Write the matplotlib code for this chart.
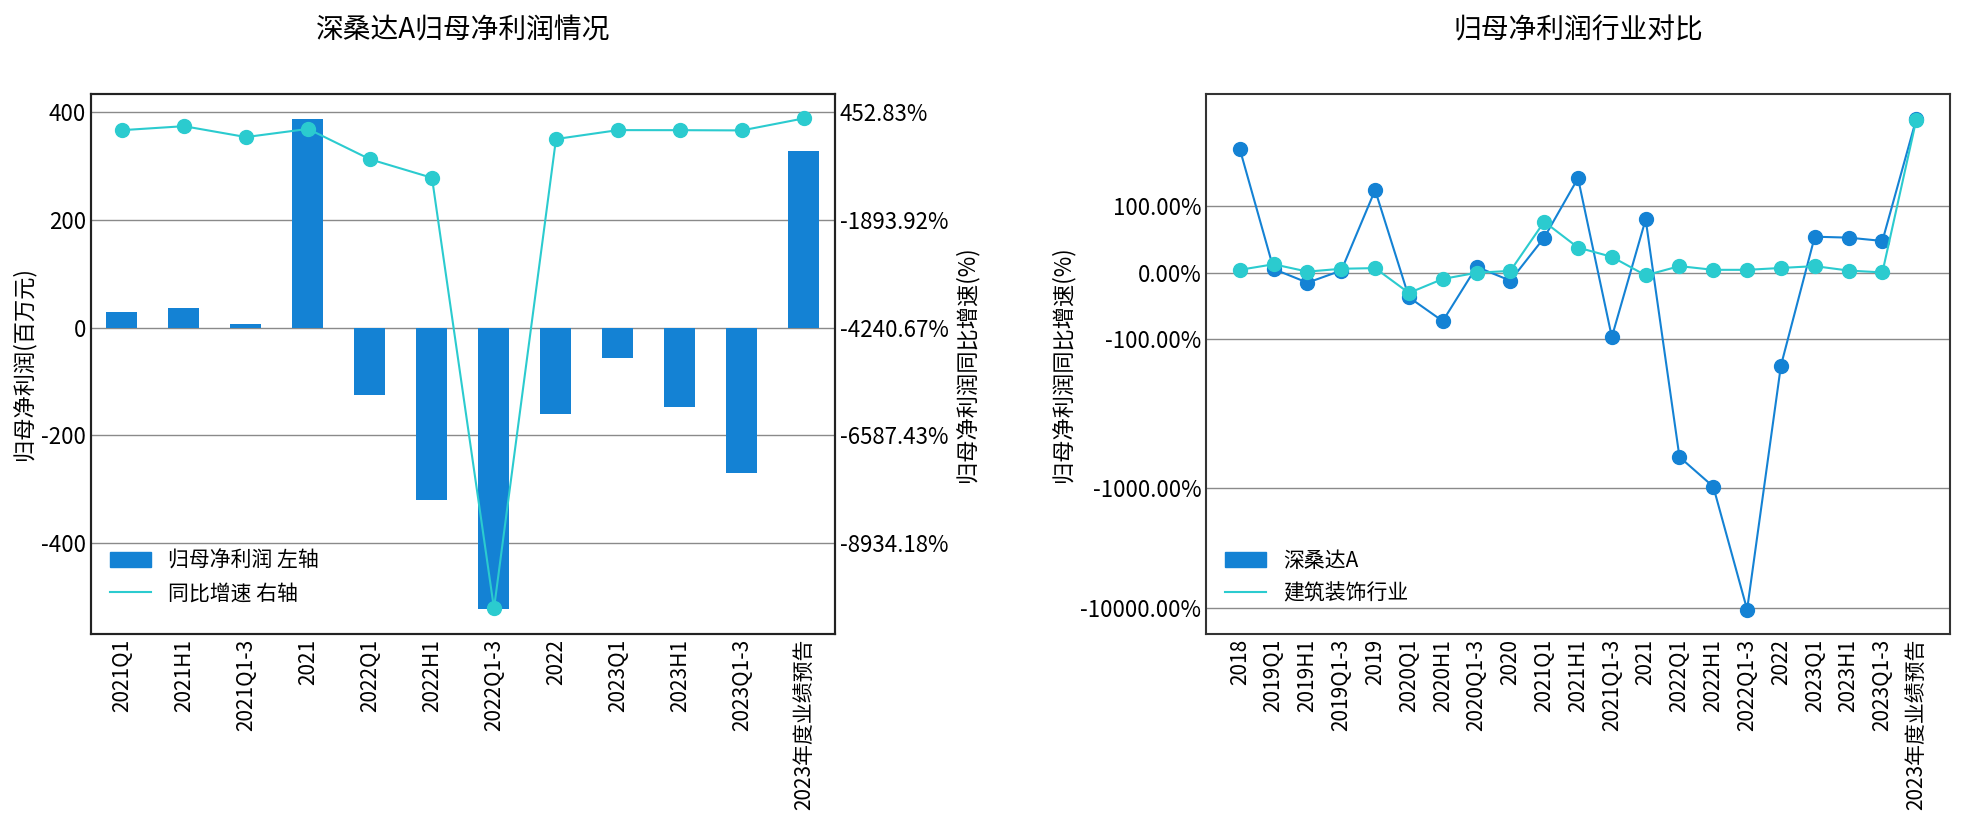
import numpy as np
import matplotlib
matplotlib.use("Agg")
import matplotlib.pyplot as plt
from matplotlib.patches import Patch
from matplotlib.lines import Line2D
from matplotlib.ticker import FuncFormatter, NullLocator

plt.rcParams["font.family"] = ["Noto Sans CJK SC", "DejaVu Sans"]
plt.rcParams["axes.unicode_minus"] = False

# 左图：深桑达A归母净利润
periods = ["2021Q1", "2021H1", "2021Q1-3", "2021", "2022Q1", "2022H1",
           "2022Q1-3", "2022", "2023Q1", "2023H1", "2023Q1-3", "2023年度业绩预告"]
profit = [28, 37, 6, 387, -125, -320, -521, -160, -56, -148, -269, 327]
growth = [53, 140, -97, 80.5, -580, -983, -10350, -140, 54.4, 53, 48, 310]
left_ticks = [-400, -200, 0, 200, 400]
twin_ticks = [-8934.18, -6587.43, -4240.67, -1893.92, 452.83]

# 右图：行业对比
periods_all = ["2018", "2019Q1", "2019H1", "2019Q1-3", "2019", "2020Q1", "2020H1",
               "2020Q1-3", "2020", "2021Q1", "2021H1", "2021Q1-3", "2021", "2022Q1",
               "2022H1", "2022Q1-3", "2022", "2023Q1", "2023H1", "2023Q1-3",
               "2023年度业绩预告"]
company_growth = [243, 5.6, -15, 3.3, 129, -37, -73, 9, -12, 53, 155, -97, 80.5,
                  -621, -983, -10350, -151, 54.4, 53, 48, 386]
industry_growth = [4.4, 12.8, 1.7, 6, 7, -30.5, -9.4, 0, 2.8, 77, 38, 24, -3.9,
                   10, 4.4, 4.4, 7.2, 10, 3.3, 0.5, 380]
right_ticks = [100, 0, -100, -1000, -10000]

BLUE = "#1482D4"
CYAN = "#2BCBCF"
GRID = "#8a8a8a"
FS = 15
TFS = 16

# 分段对数刻度：±100 内线性，之外按对数
KNOT_LOG = [2, 3, 4, 6]
KNOT_POS = [53, 172, 268, 460]


def fwd(x):
    x = np.asarray(x, dtype=float)
    a = np.abs(x)
    lin = a * 0.53
    lg = np.interp(np.log10(np.maximum(a, 100)), KNOT_LOG, KNOT_POS)
    return np.sign(x) * np.where(a <= 100, lin, lg)


def inv(y):
    y = np.asarray(y, dtype=float)
    a = np.abs(y)
    lin = a / 0.53
    lg = 10 ** np.interp(np.maximum(a, 53), KNOT_POS, KNOT_LOG)
    return np.sign(y) * np.where(a <= 53, lin, lg)


def pct(v, p):
    return f"{v:.2f}%"


fig = plt.figure(figsize=(19.61, 8.34), dpi=100)

# ---- 左图 ----
ax1 = fig.add_axes([0.0464, 0.2398, 0.3794, 0.6475])
x1 = np.arange(len(periods))
ax1.bar(x1, profit, width=0.5, color=BLUE, zorder=2)
ax1.set_xlim(-0.5, len(periods) - 0.5)
ylo, yhi = -568, 433
ax1.set_ylim(ylo, yhi)
ax1.set_yticks(left_ticks)
ax1.grid(axis="y", color=GRID, lw=1, zorder=0)
ax1.set_xticks(x1)
ax1.set_xticklabels(periods, rotation=90, fontsize=FS)
ax1.tick_params(axis="y", length=0, labelsize=TFS)
ax1.tick_params(axis="x", length=0, labelsize=FS)
ax1.set_ylabel("归母净利润(百万元)", fontsize=16)
for s in ax1.spines.values():
    s.set_linewidth(1.5)
    s.set_color("#222222")
ax1.set_title("深桑达A归母净利润情况", fontsize=20, pad=40)

# 右轴与左轴网格对齐
k = (twin_ticks[-1] - twin_ticks[-2]) / (left_ticks[-1] - left_ticks[-2])
b = twin_ticks[-1] - left_ticks[-1] * k
ax1b = ax1.twinx()
ax1b.plot(x1, growth, color=CYAN, lw=1.5, marker="o", ms=10, zorder=3)
ax1b.set_ylim(ylo * k + b, yhi * k + b)
ax1b.set_yticks(twin_ticks)
ax1b.set_yticklabels([f"{t:.2f}%" for t in twin_ticks])
ax1b.tick_params(length=0, labelsize=TFS)
ax1b.set_ylabel("归母净利润同比增速(%)", fontsize=16)
for s in ax1b.spines.values():
    s.set_linewidth(1.5)
    s.set_color("#222222")

ax1.legend([Patch(color=BLUE), Line2D([], [], color=CYAN, lw=1.5)],
           ["归母净利润 左轴", "同比增速 右轴"], loc="lower left",
           frameon=False, fontsize=FS, bbox_to_anchor=(0.0, 0.02))

# ---- 右图 ----
ax2 = fig.add_axes([0.615, 0.2398, 0.3794, 0.6475])
ax2.set_yscale("function", functions=(fwd, inv))
x2 = np.arange(len(periods_all))
ax2.plot(x2, company_growth, color=BLUE, lw=1.5, marker="o", ms=10, zorder=3)
ax2.plot(x2, industry_growth, color=CYAN, lw=1.5, marker="o", ms=10, zorder=4)
ax2.set_xlim(-1, len(periods_all))
ax2.set_ylim(inv(-289), inv(143))
ax2.set_yticks(right_ticks)
ax2.yaxis.set_major_formatter(FuncFormatter(pct))
ax2.yaxis.set_minor_locator(NullLocator())
ax2.grid(axis="y", color=GRID, lw=1, zorder=0)
ax2.set_xticks(x2)
ax2.set_xticklabels(periods_all, rotation=90, fontsize=FS)
ax2.tick_params(axis="y", length=0, labelsize=TFS)
ax2.tick_params(axis="x", length=0, labelsize=FS)
ax2.set_ylabel("归母净利润同比增速(%)", fontsize=16)
for s in ax2.spines.values():
    s.set_linewidth(1.5)
    s.set_color("#333333")
ax2.set_title("归母净利润行业对比", fontsize=20, pad=40)
ax2.legend([Patch(color=BLUE), Line2D([], [], color=CYAN, lw=1.5)],
           ["深桑达A", "建筑装饰行业"], loc="lower left",
           frameon=False, fontsize=FS, bbox_to_anchor=(0.0, 0.02))

fig.savefig("out.png", dpi=100)
